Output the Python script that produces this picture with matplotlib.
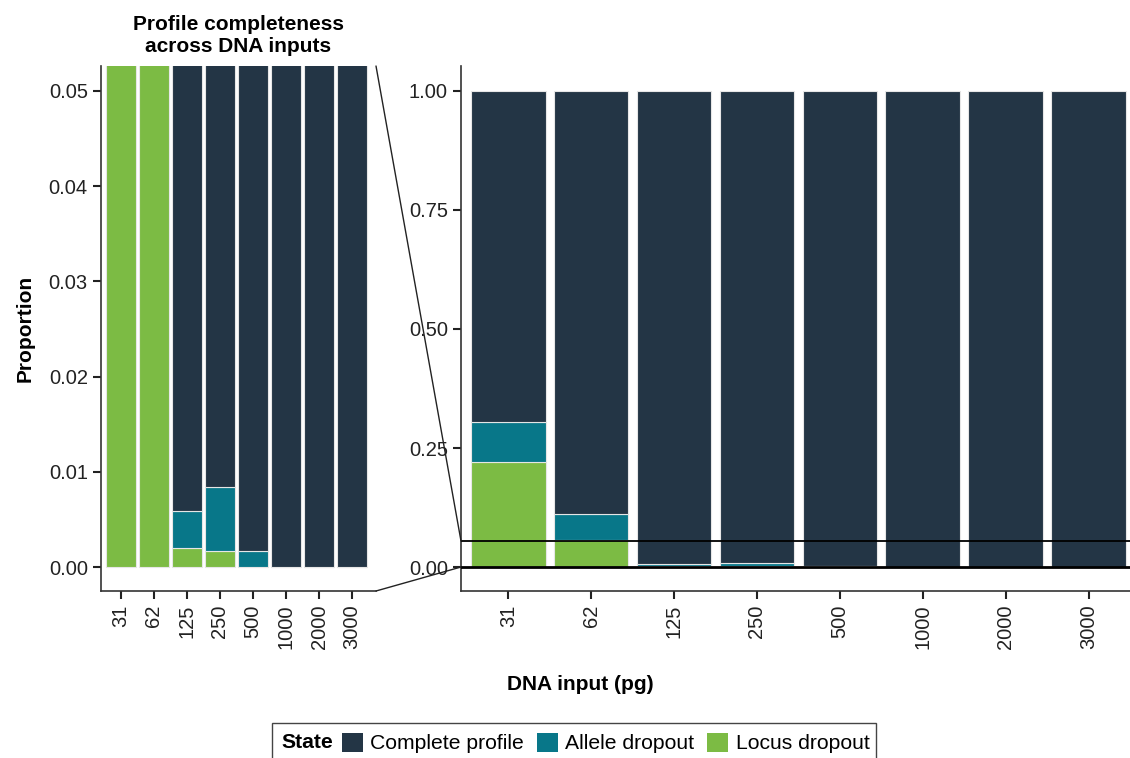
import matplotlib
matplotlib.use("Agg")
import matplotlib.pyplot as plt
import numpy as np
from matplotlib.patches import Rectangle, Patch, ConnectionPatch

plt.rcParams['font.family'] = ['Liberation Sans', 'DejaVu Sans']

# ---- data ----
categories = ["31", "62", "125", "250", "500", "1000", "2000", "3000"]
locus_dropout = [0.221, 0.057, 0.0020, 0.0017, 0.0, 0.0, 0.0, 0.0]
allele_dropout = [0.084, 0.055, 0.0039, 0.0067, 0.0017, 0.0, 0.0, 0.0]
complete_profile = [1 - l - a for l, a in zip(locus_dropout, allele_dropout)]
state_labels = ["Complete profile", "Allele dropout", "Locus dropout"]
state_colors = ["#233545", "#087789", "#7cbb44"]
left_yticks = [0.00, 0.01, 0.02, 0.03, 0.04, 0.05]
right_yticks = [0.00, 0.25, 0.50, 0.75, 1.00]

W, H = 1130, 758
fig = plt.figure(figsize=(W / 100, H / 100), dpi=100)

def px_ax(x0, y0, x1, y1):
    return fig.add_axes([x0 / W, 1 - y1 / H, (x1 - x0) / W, (y1 - y0) / H])

axL = px_ax(101, 66, 376, 591)
axR = px_ax(461, 66, 1130, 591)

x = np.arange(len(categories))
spine_c = "#333333"
for ax in (axL, axR):
    ax.bar(x, locus_dropout, width=0.9, color=state_colors[2], edgecolor="#e6e6e6", linewidth=0.8)
    ax.bar(x, allele_dropout, width=0.9, bottom=locus_dropout, color=state_colors[1],
           edgecolor="#e6e6e6", linewidth=0.8)
    bottoms = [l + a for l, a in zip(locus_dropout, allele_dropout)]
    ax.bar(x, complete_profile, width=0.9, bottom=bottoms, color=state_colors[0],
           edgecolor="#e6e6e6", linewidth=0.8)
    ax.set_xticks(x)
    ax.set_xticklabels(categories, rotation=90, fontsize=14.5, color="#222222")
    for s in ("top", "right"):
        ax.spines[s].set_visible(False)
    for s in ("left", "bottom"):
        ax.spines[s].set_color(spine_c)
        ax.spines[s].set_linewidth(1.2)
    ax.tick_params(axis="both", length=6, width=1.5, color="#222222", labelsize=14.5,
                   labelcolor="#222222")
    ax.set_facecolor("none")

axL.set_xlim(-0.6, 7.72)
axL.set_ylim(-0.0025, 0.0526)
axL.set_yticks(left_yticks)
axL.set_yticklabels([f"{v:.2f}" for v in left_yticks])
axL.set_ylabel("Proportion", fontsize=15, fontweight="bold", labelpad=10)
axL.set_title("Profile completeness\nacross DNA inputs", fontsize=15, fontweight="bold", pad=10)

axR.set_xlim(-0.57, 7.5)
axR.set_ylim(-0.0504, 1.0525)
axR.set_yticks(right_yticks)
axR.set_yticklabels([f"{v:.2f}" for v in right_yticks])

zoom_top = 0.0546
axR.axhline(0, color="black", lw=2.0, zorder=5)
axR.axhline(zoom_top, color="black", lw=1.3, zorder=5)

# connector lines
for (xa, ya), (xb, yb) in [((1.0, 1.0), (axR.get_xlim()[0], zoom_top)),
                           ((1.0, 0.0), (axR.get_xlim()[0], 0.0))]:
    cp = ConnectionPatch(xyA=(xa, ya), coordsA=axL.transAxes,
                         xyB=(xb, yb), coordsB=axR.transData,
                         color="#222222", lw=1.0)
    fig.add_artist(cp)

fig.text(580 / W, 1 - 685 / H, "DNA input (pg)", ha="center", va="center",
         fontsize=15, fontweight="bold")

# legend
handles = [Patch(facecolor=c, edgecolor="none") for c in state_colors]
leg = fig.legend(handles, state_labels, ncol=3, frameon=False, loc="center left",
                 bbox_to_anchor=(342 / W, 1 - 743 / H), fontsize=15.2,
                 handlelength=1.0, handleheight=1.0, handletextpad=0.35,
                 columnspacing=0.6, borderpad=0, borderaxespad=0)
fig.text(281 / W, 1 - 743 / H, "State", ha="left", va="center", fontsize=15.2,
         fontweight="bold")
fig.add_artist(Rectangle((272 / W, 1 - 764 / H), (876 - 272) / W, (764 - 723) / H,
                         transform=fig.transFigure, fill=False, edgecolor="#444444", lw=1.0))

fig.savefig("out.png", dpi=100)
